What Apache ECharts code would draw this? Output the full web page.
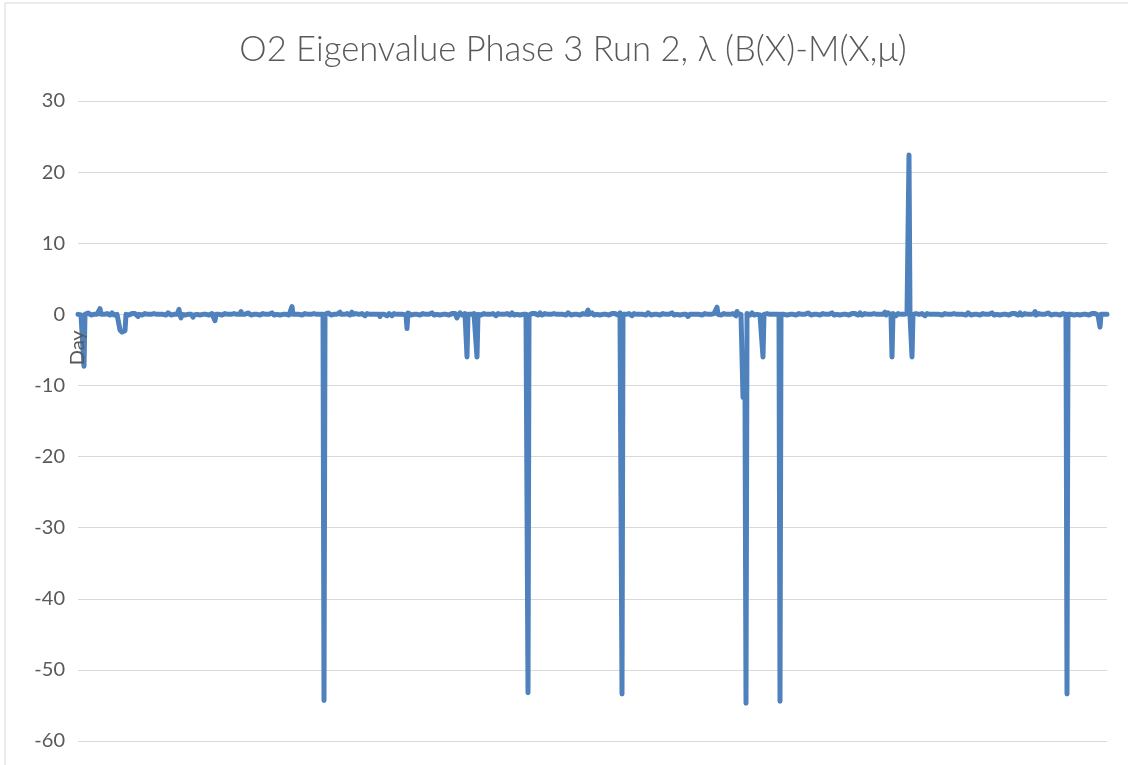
<!DOCTYPE html>
<html>
<head>
<meta charset="utf-8">
<script src="https://cdn.jsdelivr.net/npm/echarts@6/dist/echarts.min.js"></script>
<style>
html,body{margin:0;padding:0;background:#fff;}
#chart{width:1128px;height:765px;}
</style>
</head>
<body>
<div id="chart"></div>
<script>
const chartTitle = 'O2 Eigenvalue Phase 3 Run 2, λ (B(X)-M(X,μ)';
const firstCategory = 'Day';
const yTicks = [-60, -50, -40, -30, -20, -10, 0, 10, 20, 30];

const values = [
  0, 0.1, 0, -0.1, 0, 0, -7.3, 0, -0.1, 0, 0.2, 0, 0, -0.1, 0, 0.1, 0, 0, -0.2, 0, 0.1, 0, 0.8, 0, 0, 0.1, 0, -0.1, 0, 0.1, 0, 0, -0.1, 0, 0.2, 0, -0.1, 0, 0.1, 0,
  0.1, 0, -2.2, -2.4, -2.5, -2.4, -2.5, -2.3, 0, 0.1, 0, -0.1, 0, 0, 0.1, 0, -0.1, 0.1, 0, 0, -0.3, 0, 0.2, 0, -0.1, 0, 0, 0.1, 0, -0.1, 0, 0.1, 0, 0, -0.2, 0, 0.1, 0, -0.1, 0,
  0, 0.1, 0, -0.1, 0, 0, 0.1, 0, -0.1, 0, 0.2, 0, 0, -0.1, 0, 0.1, 0, 0, -0.2, 0, 0.1, 0.7, -0.1, -0.5, 0, 0.1, 0, -0.1, 0, 0.1, 0, 0, -0.1, 0, 0.2, -0.4, -0.1, 0, 0.1, 0,
  0.1, 0, -0.1, 0, 0.1, 0, 0, -0.2, 0, 0.1, 0, -0.1, 0, 0, 0.1, 0, -0.1, -0.9, 0, 0, -0.1, 0, 0.2, 0, -0.1, 0, 0, 0.1, 0, -0.1, 0, 0.1, 0, 0, -0.2, 0, 0.1, 0, -0.1, 0,
  0, 0.1, 0, 0.4, 0, 0, 0.1, 0, -0.1, 0, 0.2, 0, 0, -0.1, 0, 0.1, 0, 0, -0.2, 0, 0.1, 0, -0.1, 0, 0, 0.1, 0, -0.1, 0, 0.1, 0, 0, -0.1, 0, 0.2, 0, -0.1, 0, 0.1, 0,
  0.1, 0, -0.1, 0, 0.1, 0, 0, -0.2, 0, 0.1, 0, -0.1, 0, 0, 1.1, 0, -0.1, 0.1, 0, 0, -0.1, 0, 0.2, 0, -0.1, 0, 0, 0.1, 0, -0.1, 0, 0.1, 0, 0, -0.2, 0, 0.1, 0, -0.1, 0,
  0, 0.1, 0, -0.1, 0, 0, -54.3, 0, -0.1, 0, 0.2, 0, 0, -0.1, 0, 0.1, 0, 0, -0.2, 0, 0.1, 0, 0.3, 0, 0, 0.1, 0, -0.1, 0, 0.1, 0, 0, -0.1, 0, 0.3, 0, -0.1, 0, 0.1, 0,
  0.1, 0, -0.1, 0, 0.1, 0, 0, -0.2, 0, 0.1, 0, -0.1, 0, 0, 0.1, 0, -0.1, 0.1, 0, 0, -0.1, 0, -0.3, 0, -0.1, 0, 0, 0.1, 0, -0.2, 0, 0.1, 0, 0, -0.2, 0, 0.1, 0, -0.1, 0,
  0, 0.1, 0, -0.1, 0, 0, 0.1, 0, -0.1, -2.0, 0.2, 0, 0, -0.1, 0, 0.1, 0, 0, -0.2, 0, 0.1, 0, -0.1, 0, 0, 0.1, 0, -0.1, 0, 0.1, 0, 0, -0.1, 0, 0.2, 0, -0.1, 0, 0.1, 0,
  0.1, 0, -0.1, 0, 0.1, 0, 0, -0.2, 0, 0.1, 0, -0.1, 0, 0, 0.1, 0, -0.1, 0.1, 0, -0.5, -0.1, 0, 0.2, 0, -0.1, 0, 0, 0.1, 0, -6.0, 0, 0.1, 0, 0, -0.2, 0, 0.1, 0, -0.1, -6.0,
  0, 0.1, 0, -0.1, 0, 0, 0.1, 0, -0.1, 0, 0.2, 0, 0, -0.1, 0, 0.1, 0, 0, -0.2, 0, 0.1, 0, -0.1, 0, 0, 0.1, 0, -0.1, 0, 0.1, 0, 0, -0.1, 0, 0.2, 0, -0.1, 0, 0.1, 0,
  0.1, 0, -0.1, 0, 0.1, 0, 0, -0.2, 0, 0.1, -53.2, -0.1, 0, 0, 0.1, 0, -0.1, 0.1, 0, 0, -0.1, 0, 0.2, 0, -0.1, 0, 0, 0.1, 0, -0.1, 0, 0.1, 0, 0, -0.2, 0, 0.1, 0, -0.1, 0,
  0, 0.1, 0, -0.1, 0, 0, 0.1, 0, -0.1, 0, 0.2, 0, 0, -0.1, 0, 0.1, 0, 0, -0.2, 0, 0.1, 0, -0.1, 0, 0, 0.1, 0, -0.1, 0, 0.1, 0.6, 0, -0.1, 0, 0.2, 0, -0.1, 0, 0.1, 0,
  0.1, 0, -0.1, 0, 0.1, 0, 0, -0.2, 0, 0.1, 0, -0.1, 0, 0, 0.1, 0, -0.1, 0.1, 0, 0, -0.1, 0, 0.2, 0, -53.4, 0, 0, 0.1, 0, -0.1, 0, 0.1, 0, 0, -0.2, 0, 0.1, 0, -0.1, 0,
  0, 0.1, 0, -0.1, 0, 0, 0.1, 0, -0.1, 0, 0.2, 0, 0, -0.1, 0, 0.1, 0, 0, -0.2, 0, 0.1, 0, -0.1, 0, 0, 0.1, 0, -0.1, 0, 0.1, 0, 0, -0.1, 0, 0.2, 0, -0.1, 0, 0.1, 0,
  0.1, 0, -0.1, 0, 0.1, 0, 0, -0.2, 0, 0.1, -0.3, -0.1, 0, 0, 0.1, 0, -0.1, 0.1, 0, 0, -0.1, 0, 0.2, 0, -0.1, 0, 0, 0.1, 0, -0.1, 0, 0.1, 0, 0, -0.2, 0, 0.1, 0, -0.1, 1.0,
  0, 0.1, 0, -0.1, 0, 0, 0.1, 0, -0.1, 0, 0.2, 0, 0, -0.1, 0, 0.1, 0, 0, -0.2, 0.4, 0.1, 0, -0.1, 0, 0, -11.7, -11.2, -11.5, -54.7, 0.1, 0, 0, -0.1, 0, 0.2, 0, -0.1, 0, 0.1, 0,
  0.1, 0, -0.1, 0, 0.1, -6.0, 0, -0.2, 0, 0.1, 0, -0.1, 0, 0, 0.1, 0, -0.1, 0.1, 0, 0, -0.1, 0, -54.4, 0, -0.1, 0, 0, 0.1, 0, -0.1, 0, 0.1, 0, 0, -0.2, 0, 0.1, 0, -0.1, 0,
  0, 0.1, 0, -0.1, 0, 0, 0.1, 0, -0.1, 0, 0.2, 0, 0, -0.1, 0, 0.1, 0, 0, -0.2, 0, 0.1, 0, -0.1, 0, 0, 0.1, 0, -0.1, 0, 0.1, 0, 0, -0.1, 0, 0.2, 0, -0.1, 0, 0.1, 0,
  0.1, 0, -0.1, 0, 0.1, 0, 0, -0.2, 0, 0.1, 0, -0.1, 0, 0, 0.1, 0, -0.1, 0.1, 0, 0, -0.1, 0, 0.2, 0, -0.1, 0, 0, 0.1, 0, -0.1, 0, 0.1, 0, 0, -0.2, 0, 0.1, 0, -0.1, 0,
  0, 0.1, 0, -0.1, 0, 0, 0.1, 0.3, -0.1, 0, 0.2, 0, 0, -0.1, -6.0, 0.1, 0, 0, -0.2, 0, 0.1, 0, -0.1, 0, 0, 0.1, 0, -0.1, 0, 0.1, 0, 22.4, -0.1, 0, -6.0, 0, -0.1, 0, 0.1, 0,
  0.1, 0, -0.1, 0, 0.1, 0, 0, -0.2, 0, 0.1, 0, -0.1, 0, 0, 0.1, 0, -0.1, 0.1, 0, -0.2, -0.1, 0, 0.2, 0, -0.1, 0, 0, 0.1, 0, -0.1, 0, 0.1, 0, 0, -0.2, 0, 0.1, 0, -0.1, 0,
  0, 0.1, 0, -0.1, 0, 0, 0.1, 0, -0.1, 0, 0.2, 0, 0, -0.1, 0, 0.1, 0, 0, -0.2, 0, 0.1, 0, -0.1, 0, 0, 0.1, 0, -0.1, 0, 0.1, 0, 0, -0.1, 0, 0.2, 0, -0.1, 0, 0.1, 0,
  0.1, 0, -0.1, 0, 0.1, 0, 0, -0.2, 0, 0.1, 0, -0.1, 0, 0, 0.1, 0, -0.1, 0.1, 0, 0, -0.1, 0, 0.2, 0, -0.1, 0, 0, 0.1, 0, -0.1, 0, 0.1, 0, 0, -0.2, 0, 0.1, 0.4, -0.1, 0,
  0, 0.1, 0, -0.1, 0, 0, 0.1, 0, -0.1, 0, 0.2, 0, 0, -0.1, 0, 0.1, 0, 0, -0.2, 0, 0.1, 0, -0.1, 0, 0, 0.1, 0, -0.1, 0, -53.4, 0, 0, -0.1, 0, 0.2, 0, -0.1, 0, 0.1, 0,
  0.1, 0, -0.1, 0, 0.1, 0, 0, -0.2, 0, 0.1, 0, -0.1, 0, 0, 0.1, 0, -0.1, 0.1, 0, 0, -0.1, 0, -1.8, 0, -0.1, 0, 0, 0.1, 0, 0
];

const categories = values.map((v, i) => (i === 0 ? firstCategory : ''));

const chart = echarts.init(document.getElementById('chart'), null, {renderer: 'canvas'});
chart.setOption({
  animation: false,
  backgroundColor: '#ffffff',
  textStyle: {fontFamily: 'Lato'},
  title: {
    text: chartTitle,
    left: 568,
    textAlign: 'center',
    top: 27,
    textStyle: {fontFamily: 'Lato', fontSize: 34.6, fontWeight: 300, color: '#595959'}
  },
  graphic: [{
    type: 'rect',
    shape: {x: 5, y: 3, width: 1135, height: 800},
    style: {fill: 'none', stroke: '#d9d9d9', lineWidth: 1},
    silent: true
  }],
  grid: {left: 78, right: 21, top: 101, bottom: 24, containLabel: false, outerBoundsMode: 'none'},
  xAxis: {
    type: 'category',
    data: categories,
    boundaryGap: false,
    z: 5,
    axisLine: {show: false, onZero: false},
    axisTick: {show: false},
    axisLabel: {
      interval: 0,
      rotate: 90,
      margin: 16,
      padding: [0, 0, 10, 0],
      color: '#595959',
      fontSize: 20,
      fontFamily: 'Lato'
    },
    splitLine: {show: false}
  },
  yAxis: {
    type: 'value',
    min: yTicks[0],
    max: yTicks[yTicks.length - 1],
    interval: 10,
    axisLine: {show: false},
    axisTick: {show: false},
    axisLabel: {color: '#595959', fontSize: 20, fontFamily: 'Lato', margin: 13},
    splitLine: {lineStyle: {color: '#d9d9d9', width: 1}}
  },
  series: [{
    type: 'line',
    data: values,
    showSymbol: false,
    symbol: 'none',
    lineStyle: {color: '#4F81BD', width: 5, cap: 'round', join: 'round'},
    itemStyle: {color: '#4F81BD'},
    z: 2
  }]
});

// Move the category axis (its label) up so it crosses the value axis at 0.
const zeroY = chart.convertToPixel({yAxisIndex: 0}, 0);
const minY = chart.convertToPixel({yAxisIndex: 0}, yTicks[0]);
chart.setOption({xAxis: {offset: zeroY - minY}});
</script>
</body>
</html>
